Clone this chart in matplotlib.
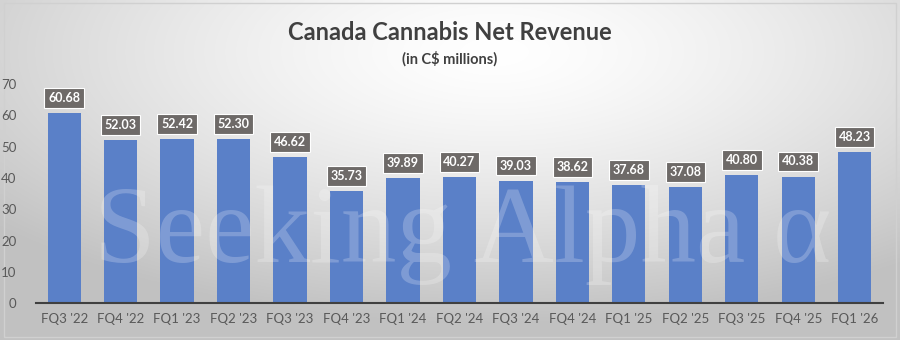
import numpy as np
import matplotlib
matplotlib.use("Agg")
import matplotlib.pyplot as plt

quarters = ["FQ3 '22", "FQ4 '22", "FQ1 '23", "FQ2 '23", "FQ3 '23", "FQ4 '23",
            "FQ1 '24", "FQ2 '24", "FQ3 '24", "FQ4 '24", "FQ1 '25", "FQ2 '25",
            "FQ3 '25", "FQ4 '25", "FQ1 '26"]
revenue = [60.68, 52.03, 52.42, 52.30, 46.62, 35.73, 39.89, 40.27,
           39.03, 38.62, 37.68, 37.08, 40.80, 40.38, 48.23]
y_ticks = [0, 10, 20, 30, 40, 50, 60, 70]

plt.rcParams["font.family"] = ["Lato", "DejaVu Sans"]

fig = plt.figure(figsize=(9, 3.4), dpi=100)

# radial gradient background, light in the upper middle, grey at the edges
bg = fig.add_axes([0, 0, 1, 1], zorder=0)
xx, yy = np.meshgrid(np.linspace(0, 1, 300), np.linspace(0, 1, 120))
r = np.sqrt(((xx - 0.55) * 1.0) ** 2 + ((yy - 0.85) * 0.9) ** 2)
shade = 1.0 - 0.24 * np.clip(r / 0.72, 0, 1) ** 1.4
bg.imshow(np.dstack([shade] * 3), extent=[0, 1, 0, 1], origin="lower",
          aspect="auto", interpolation="bicubic")
bg.add_patch(plt.Rectangle((0.004, 0.01), 0.992, 0.98, fill=False,
                           edgecolor="#d0d0d0", lw=1))
bg.set_xlim(0, 1)
bg.set_ylim(0, 1)
bg.axis("off")

ax = fig.add_axes([0.040, 0.108, 0.941, 0.645], zorder=1)
ax.patch.set_alpha(0)

x = np.arange(len(quarters))
ax.bar(x, revenue, width=0.59, color="#5a80c8", zorder=2)

for xi, v in zip(x, revenue):
    ax.annotate(f"{v:.2f}", (xi, v), xytext=(0, 11), textcoords="offset points",
                ha="center", va="center", fontsize=9, fontweight="bold",
                color="white", zorder=4,
                bbox=dict(boxstyle="square,pad=0.3", facecolor="#6e6a68",
                          edgecolor="white", lw=0.8))

ax.set_xlim(-0.5, len(quarters) - 0.5)
ax.set_ylim(0, 70)
ax.set_yticks(y_ticks)
ax.set_xticks(x)
ax.set_xticklabels(quarters)
ax.tick_params(axis="both", length=0, labelsize=9.5, labelcolor="#595959")
ax.tick_params(axis="x", pad=7)
ax.tick_params(axis="y", pad=14)
for s in ["top", "right", "left"]:
    ax.spines[s].set_visible(False)
ax.spines["bottom"].set_color("#404040")
ax.spines["bottom"].set_linewidth(1.5)

# watermark
fig.text(0.105, 0.31, "Seeking Alpha \u03b1", fontsize=80, family="Liberation Serif",
         color="white", alpha=0.22, ha="left", va="center", zorder=3)

fig.text(0.5, 0.905, "Canada Cannabis Net Revenue", ha="center", va="center",
         fontsize=17, fontweight="bold", color="#404040")
fig.text(0.5, 0.828, "(in C$ millions)", ha="center", va="center",
         fontsize=10.5, fontweight="bold", color="#404040")

fig.savefig("out.png", dpi=100)
